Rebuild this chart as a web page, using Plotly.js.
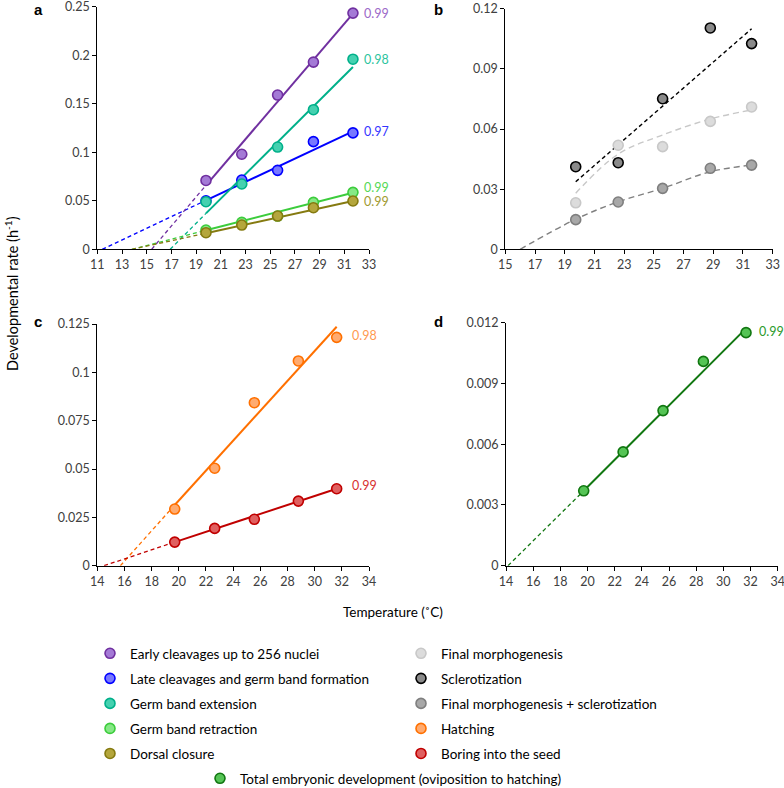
<!DOCTYPE html>
<html>
<head>
<meta charset="utf-8">
<script src="https://cdn.plot.ly/plotly-3.0.1.min.js"></script>
<style>html,body{margin:0;padding:0;background:#fff}#chart{width:784px;height:788px}</style>
</head>
<body>
<div id="chart"></div>
<script>
// ---------- data ----------
const tempA = [19.8, 22.7, 25.6, 28.5, 31.7];
const tempB = [19.74, 22.6, 25.59, 28.8, 31.58];
const tempC = [19.7, 22.64, 25.56, 28.8, 31.62];
const tempD = [19.72, 22.62, 25.56, 28.53, 31.67];

const earlyCleavages = [0.071, 0.098, 0.159, 0.193, 0.2435];
const lateCleavages  = [0.050, 0.0714, 0.0814, 0.111, 0.120];
const germExtension  = [0.049, 0.0673, 0.1054, 0.1439, 0.196];
const germRetraction = [0.0199, 0.0278, 0.0343, 0.0484, 0.0587];
const dorsalClosure  = [0.0171, 0.025, 0.0343, 0.0429, 0.0498];

const finalMorph     = [0.0232, 0.0519, 0.0512, 0.0638, 0.071];
const scleroti       = [0.0412, 0.0432, 0.0751, 0.1104, 0.1026];
const finalPlusScl   = [0.0148, 0.0236, 0.0304, 0.0404, 0.042];

const hatching       = [0.0293, 0.0504, 0.0843, 0.1059, 0.1181];
const boring         = [0.0122, 0.0193, 0.024, 0.0334, 0.0398];

const totalDev       = [0.0037, 0.00562, 0.00766, 0.01009, 0.01151];

// fitted lines: [lower threshold, first temp, last temp] and rates
const fitEarlyX = [15.4, 19.8, 31.7],  fitEarlyY = [0, 0.066, 0.243];
const fitLateX  = [11.4, 19.8, 31.7],  fitLateY  = [0, 0.0505, 0.1215];
const fitExtX   = [16.9, 19.8, 31.7],  fitExtY   = [0, 0.037, 0.188];
const fitRetrX  = [13.8, 19.8, 31.7],  fitRetrY  = [0, 0.0197, 0.0583];
const fitDorsX  = [13.8, 19.8, 31.7],  fitDorsY  = [0, 0.0166, 0.0498];

const fitSclX   = [19.74, 31.58],      fitSclY   = [0.0337, 0.110];
const fitFinX   = [19.74, 22.6, 25.59, 28.8, 31.58], fitFinY = [0.028, 0.0475, 0.057, 0.065, 0.0695];
const fitFpsX   = [16.0, 19.74, 22.6, 25.59, 28.8, 31.58], fitFpsY = [0, 0.015, 0.0237, 0.0304, 0.0387, 0.042];

const fitHatX   = [15.7, 19.7, 31.62], fitHatY   = [0, 0.0314, 0.1236];
const fitBorX   = [14.5, 19.7, 31.62], fitBorY   = [0, 0.0122, 0.0398];
const fitTotX   = [14.15, 19.72, 31.67], fitTotY = [0, 0.0037, 0.01172];

const r2A = ['0.99', '0.98', '0.97', '0.99', '0.99'];
const r2C = ['0.98', '0.99'];
const r2D = ['0.99'];

// ---------- styles ----------
const FONT = 'Lato, "Open Sans", sans-serif';
const C = {
  early: {fill: '#a47ad6', line: '#7030a0'},
  late:  {fill: '#7878ff', line: '#0000ff'},
  ext:   {fill: '#45d1b0', line: '#00b08a'},
  retr:  {fill: '#86e886', line: '#3ccc3c'},
  dors:  {fill: '#b4a63c', line: '#857a10'},
  fin:   {fill: '#dcdcdc', line: '#c8c8c8'},
  scl:   {fill: '#8a8a8a', line: '#000000'},
  fps:   {fill: '#a8a8a8', line: '#7f7f7f'},
  hat:   {fill: '#ffab70', line: '#ff7000'},
  bor:   {fill: '#e06060', line: '#c00000'},
  tot:   {fill: '#55c455', line: '#117711'}
};
const txtCol = {early:'#9b68c8', ext:'#2cc49e', late:'#3535ff', retr:'#55d855', dors:'#a09a30', hat:'#ff9a50', bor:'#d83030', tot:'#2a9a2a'};

const traces = [];
function fitLines(xs, ys, col, ax, ay) {
  traces.push({x: xs.slice(0,2), y: ys.slice(0,2), xaxis: ax, yaxis: ay, mode: 'lines',
    line: {color: col, width: 1.3, dash: '4px,3px'}, showlegend: false, hoverinfo: 'skip'});
  traces.push({x: xs.slice(1), y: ys.slice(1), xaxis: ax, yaxis: ay, mode: 'lines',
    line: {color: col, width: 2}, showlegend: false, hoverinfo: 'skip'});
}
function dashed(xs, ys, col, ax, ay, dash, shape) {
  traces.push({x: xs, y: ys, xaxis: ax, yaxis: ay, mode: 'lines',
    line: {color: col, width: 1.4, dash: dash, shape: shape || 'linear', smoothing: 1},
    showlegend: false, hoverinfo: 'skip'});
}
function pts(xs, ys, c, name, ax, ay, legend, group) {
  traces.push({x: xs, y: ys, xaxis: ax, yaxis: ay, mode: 'markers', name: name,
    legend: legend, legendgroup: group,
    marker: {size: 10, color: c.fill, line: {color: c.line, width: 1.6}}});
}

// panel a
fitLines(fitLateX, fitLateY, C.late.line, 'x', 'y');
fitLines(fitEarlyX, fitEarlyY, C.early.line, 'x', 'y');
fitLines(fitExtX, fitExtY, C.ext.line, 'x', 'y');
fitLines(fitRetrX, fitRetrY, C.retr.line, 'x', 'y');
fitLines(fitDorsX, fitDorsY, C.dors.line, 'x', 'y');
// panel b
dashed(fitSclX, fitSclY, '#000000', 'x2', 'y2', '4px,3px');
dashed(fitFinX, fitFinY, '#c8c8c8', 'x2', 'y2', '6px,4px', 'spline');
dashed(fitFpsX, fitFpsY, '#808080', 'x2', 'y2', '6px,4px', 'spline');
// panel c
fitLines(fitHatX, fitHatY, C.hat.line, 'x3', 'y3');
fitLines(fitBorX, fitBorY, C.bor.line, 'x3', 'y3');
// panel d
fitLines(fitTotX, fitTotY, C.tot.line, 'x4', 'y4');

pts(tempA, earlyCleavages, C.early, 'Early cleavages up to 256 nuclei', 'x', 'y', 'legend', 'g1');
pts(tempA, lateCleavages, C.late, 'Late cleavages and germ band formation', 'x', 'y', 'legend', 'g2');
pts(tempA, germExtension, C.ext, 'Germ band extension', 'x', 'y', 'legend', 'g3');
pts(tempA, germRetraction, C.retr, 'Germ band retraction', 'x', 'y', 'legend', 'g4');
pts(tempA, dorsalClosure, C.dors, 'Dorsal closure', 'x', 'y', 'legend', 'g5');
pts(tempB, finalMorph, C.fin, 'Final morphogenesis', 'x2', 'y2', 'legend2', 'g6');
pts(tempB, scleroti, C.scl, 'Sclerotization', 'x2', 'y2', 'legend2', 'g7');
pts(tempB, finalPlusScl, C.fps, 'Final morphogenesis + sclerotization', 'x2', 'y2', 'legend2', 'g8');
pts(tempC, hatching, C.hat, 'Hatching', 'x3', 'y3', 'legend2', 'g9');
pts(tempC, boring, C.bor, 'Boring into the seed', 'x3', 'y3', 'legend2', 'g10');
pts(tempD, totalDev, C.tot, 'Total embryonic development (oviposition to hatching)', 'x4', 'y4', 'legend3', 'g11');

// ---------- layout ----------
const W = 784, H = 788;
const px = v => v / W, py = v => 1 - v / H;
function xax(dom, range) {
  return {domain: dom, range: range, dtick: 2, tick0: range[0], showline: true, linecolor: '#000', linewidth: 1,
    ticks: 'outside', ticklen: 4, tickcolor: '#000', zeroline: false, showgrid: false, fixedrange: true,
    ticklabeloverflow: 'allow',
    tickfont: {family: FONT, size: 12.5, color: '#404040'}};
}
function yax(dom, range, dtick, anchor) {
  return {domain: dom, range: range, dtick: dtick, showline: true, linecolor: '#000', linewidth: 1,
    ticks: 'outside', ticklen: 4, tickcolor: '#000', zeroline: false, showgrid: false, fixedrange: true,
    ticklabeloverflow: 'allow',
    tickfont: {family: FONT, size: 12.5, color: '#404040'}, anchor: anchor};
}

const ann = [];
function lab(text, x, y, ax, ay, color) {
  ann.push({text: text, x: x, y: y, xref: ax, yref: ay, xanchor: 'left', yanchor: 'middle', showarrow: false,
    font: {family: FONT, size: 12.5, color: color}});
}
lab(r2A[0], 32.4, 0.2435, 'x', 'y', txtCol.early);
lab(r2A[1], 32.4, 0.196, 'x', 'y', txtCol.ext);
lab(r2A[2], 32.4, 0.121, 'x', 'y', txtCol.late);
lab(r2A[3], 32.4, 0.064, 'x', 'y', txtCol.retr);
lab(r2A[4], 32.4, 0.049, 'x', 'y', txtCol.dors);
lab(r2C[0], 32.6, 0.119, 'x3', 'y3', txtCol.hat);
lab(r2C[1], 32.6, 0.0413, 'x3', 'y3', txtCol.bor);
lab(r2D[0], 32.5, 0.01156, 'x4', 'y4', txtCol.tot);

function letter(t, x, y) {
  ann.push({text: '<b>' + t + '</b>', x: px(x), y: py(y), xref: 'paper', yref: 'paper', xanchor: 'center', yanchor: 'middle',
    showarrow: false, font: {family: 'Liberation Sans, Arial, sans-serif', size: 15, color: '#000'}});
}
letter('a', 38, 10); letter('b', 438, 10); letter('c', 38, 322); letter('d', 438, 322);

ann.push({text: 'Developmental rate (h<sup>-1</sup>)', x: px(12), y: py(294), xref: 'paper', yref: 'paper',
  xanchor: 'center', yanchor: 'middle', textangle: -90, showarrow: false, font: {family: FONT, size: 14.5, color: '#000'}});
ann.push({text: 'Temperature (˚C)', x: px(393), y: py(612), xref: 'paper', yref: 'paper',
  xanchor: 'center', yanchor: 'middle', showarrow: false, font: {family: FONT, size: 13.5, color: '#000'}});

const legFont = {family: FONT, size: 13.5, color: '#000'};
const layout = {
  width: W, height: H, margin: {l: 0, r: 0, t: 0, b: 0, autoexpand: false},
  paper_bgcolor: '#fff', plot_bgcolor: '#fff',
  xaxis:  xax([px(97.3), px(369)], [11, 33]),
  yaxis:  yax([py(249.3), py(6.7)], [0, 0.2501], 0.05, 'x'),
  xaxis2: Object.assign(xax([px(505.3), px(772.7)], [15, 33]), {anchor: 'y2'}),
  yaxis2: yax([py(249.3), py(8.7)], [0, 0.12001], 0.03, 'x2'),
  xaxis3: Object.assign(xax([px(97.3), px(369)], [14, 34]), {anchor: 'y3'}),
  yaxis3: yax([py(565.7), py(324)], [0, 0.12501], 0.025, 'x3'),
  xaxis4: Object.assign(xax([px(506), px(777.7)], [14, 34.001]), {anchor: 'y4'}),
  yaxis4: yax([py(565.7), py(322.7)], [0, 0.012001], 0.003, 'x4'),
  legend:  {x: px(90), y: py(638), xanchor: 'left', yanchor: 'top', font: legFont, tracegroupgap: 4.5, bgcolor: 'rgba(0,0,0,0)'},
  legend2: {x: px(401), y: py(638), xanchor: 'left', yanchor: 'top', font: legFont, tracegroupgap: 4.5, bgcolor: 'rgba(0,0,0,0)'},
  legend3: {x: px(200), y: py(763), xanchor: 'left', yanchor: 'top', font: legFont, tracegroupgap: 4.5, bgcolor: 'rgba(0,0,0,0)'},
  annotations: ann,
  showlegend: true
};
Plotly.newPlot('chart', traces, layout, {displayModeBar: false, staticPlot: true});
</script>
</body>
</html>
